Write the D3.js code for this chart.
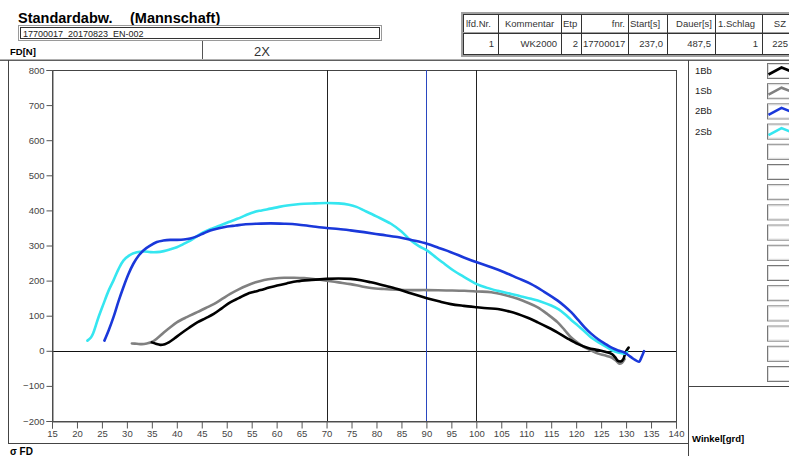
<!DOCTYPE html>
<html><head><meta charset="utf-8">
<script src="https://cdn.jsdelivr.net/npm/d3@7/dist/d3.min.js"></script>
<style>
html,body{margin:0;padding:0;background:#fff;}
svg{display:block;font-family:"Liberation Sans",Arial,sans-serif;}
</style></head>
<body>
<svg id="c" width="789" height="456"></svg>
<script>
// ---- data ----
const seriesNames = ["1Bb","1Sb","2Bb","2Sb"];
const seriesColors = ["#000000","#808080","#1a38da","#35e6f0"];
const xTicks = [15,20,25,30,35,40,45,50,55,60,65,70,75,80,85,90,95,100,105,110,115,120,125,130,135,140];
const yTicks = [-200,-100,0,100,200,300,400,500,600,700,800];
const markerLines = [70,90,100];
const markerColors = ["#222222","#2a48c0","#222222"];

const s1Bb = [[35,24],[35.8,20],[36.7,17],[37.6,19],[38.4,24],[39.5,35],[40.7,48],[42.4,65],[44.1,81],[45.8,93],[47.4,105],[49,121],[50.7,138],[52.4,150],[54.1,162],[55.5,168],[56.8,173],[58.5,180],[60.1,186],[62,192],[64.1,198],[67,202],[70,205],[72.4,206],[74.8,205],[76.9,201],[78.9,195],[81.5,186],[84.2,176],[87,163],[90.1,150],[92.5,141],[94.9,133],[97.5,128],[100.1,124],[102.2,121],[104.3,119],[106.3,113],[108.3,105],[110.3,94],[112.3,81],[114.3,67],[116.3,52],[118.3,35],[120.4,19],[122.4,8],[124.4,2],[125.8,-3],[127.1,-9],[127.8,-18],[128.3,-28],[129,-30],[129.5,-22],[129.9,-4],[130.5,9]];
const s1Sb = [[31,21],[32,20],[33,19],[34,21],[35,25],[36.2,37],[37.4,52],[38.7,67],[40,81],[42,96],[44.1,110],[45.8,122],[47.4,133],[49,147],[50.7,162],[52.4,175],[54.1,186],[55.8,195],[57.5,202],[59.5,206],[61.5,208],[63.5,208],[65.5,207],[67.8,204],[70,200],[72.4,195],[74.8,190],[76.9,184],[78.9,179],[81.5,176],[84.2,174],[87,173],[90.1,173],[94,172],[97.6,171],[100.3,169],[103,167],[105.7,159],[108.3,148],[110.3,137],[112.3,124],[114.3,104],[116.3,81],[117.7,59],[119,38],[120.4,22],[121.7,10],[123,1],[124.4,-8],[125.7,-13],[127.1,-19],[128,-28],[128.7,-37],[129.2,-34],[129.7,-24]];
const s2Bb = [[25.5,29],[26.4,60],[27.3,95],[28.3,140],[29.3,181],[30.3,218],[31.3,248],[32.3,270],[33.3,286],[34.6,299],[36,310],[37.3,314],[38.7,316],[40,316],[41.4,317],[42.7,320],[44,326],[45.4,335],[46.7,343],[48.4,349],[50.1,354],[51.8,357],[53.4,360],[56,362],[58.8,363],[61.5,362],[64.1,360],[67,355],[70,350],[72.4,347],[74.8,343],[77.5,338],[80.8,331],[84.2,324],[87.2,315],[90.1,305],[92.5,293],[94.9,281],[97.5,266],[100.1,252],[103,238],[105.6,224],[108.3,207],[111,190],[113.6,168],[116.3,143],[117.7,127],[119,110],[120.4,88],[121.7,67],[123,49],[124.4,33],[125.8,20],[127.1,9],[128.4,1],[129.7,-5],[131,-18],[131.8,-26],[132.6,-31],[133.1,-18],[133.6,-1]];
const s2Sb = [[22.1,29],[22.8,38],[23.3,52],[24.3,95],[25.3,133],[26.3,170],[27.3,200],[28.3,232],[29.3,257],[30.5,272],[32,281],[33.5,283],[34.7,281],[36,281],[37.4,284],[38.7,289],[40,295],[41.3,304],[42.7,314],[44,326],[45.4,338],[47,348],[48.7,357],[50.4,367],[52.1,376],[53.8,386],[55.4,395],[57,400],[58.8,405],[60.5,410],[62.1,414],[63.8,417],[65.5,419],[67.7,420],[70,421],[72.4,420],[74.5,416],[76,410],[77.5,400],[80,383],[82.9,362],[85,340],[86.9,314],[88.5,298],[90.1,286],[92,265],[93.6,248],[95.5,228],[97.6,210],[100.1,190],[102,180],[104.3,171],[107,162],[109,155],[111,148],[113,140],[115,129],[116.5,118],[117.7,105],[119,88],[120.4,71],[121.7,55],[123,38],[124.4,25],[125.7,14],[127,3],[128.4,-5],[129.7,-8],[130.2,-4]];
const seriesData = [s1Bb, s1Sb, s2Bb, s2Sb];

const headerTitle = "Standardabw.";
const headerSub = "(Mannschaft)";
const fileName = "17700017_20170823_EN-002";
const tableHead = ["lfd.Nr.","Kommentar","Etp","fnr.","Start[s]","Dauer[s]","1.Schlag","SZ"];
const tableRow = ["1","WK2000","2","17700017","237,0","487,5","1","225"];
const emptyLegendSlots = 12;

// ---- layout ----
const svg = d3.select("#c");
const F = '"Liberation Sans",Arial,sans-serif';

// header
svg.append("text").attr("x",18).attr("y",23).attr("font-size",14.5).attr("font-weight","bold").text(headerTitle);
svg.append("text").attr("x",130).attr("y",23).attr("font-size",14.5).attr("font-weight","bold").text(headerSub);
// file box (sunken)
svg.append("rect").attr("x",18.5).attr("y",25.5).attr("width",363).attr("height",15).attr("fill","#fff").attr("stroke","#9a9a9a");
svg.append("rect").attr("x",20.5).attr("y",27.5).attr("width",359).attr("height",11).attr("fill","#fff").attr("stroke","#333");
svg.append("text").attr("x",23).attr("y",36.5).attr("font-size",9).attr("fill","#222").text(fileName);

// FD[N] / 2X row
svg.append("text").attr("x",10).attr("y",55).attr("font-size",9.5).attr("font-weight","bold").text("FD[N]");
svg.append("line").attr("x1",202.5).attr("x2",202.5).attr("y1",41).attr("y2",59).attr("stroke","#555");
svg.append("text").attr("x",262).attr("y",56).attr("font-size",13).attr("text-anchor","middle").attr("fill","#333").text("2X");

// table
const colX = [463,498,561,581,628,667,715,762,800];
const tTop = 14, tMid = 33, tBot = 55;
svg.append("rect").attr("x",462).attr("y",tTop-1).attr("width",340).attr("height",tBot-tTop+2).attr("fill","none").attr("stroke","#a0a0a0").attr("stroke-width",2);
svg.append("rect").attr("x",463.5).attr("y",tTop+0.5).attr("width",340).attr("height",tBot-tTop-1).attr("fill","none").attr("stroke","#333");
svg.append("line").attr("x1",463).attr("x2",789).attr("y1",tMid-0.5).attr("y2",tMid-0.5).attr("stroke","#a0a0a0");
svg.append("line").attr("x1",463).attr("x2",789).attr("y1",tMid+0.5).attr("y2",tMid+0.5).attr("stroke","#333");
colX.slice(1,8).forEach(x=>{
  svg.append("line").attr("x1",x+0.5).attr("x2",x+0.5).attr("y1",tTop).attr("y2",tBot).attr("stroke","#333");
});
const headAnchor = ["start","start","start","end","start","end","start","end"];
const headPos = [466,505,563,625,630,712,718,786];
tableHead.forEach((t,i)=>{
  svg.append("text").attr("x",headPos[i]).attr("y",27).attr("font-size",9.5).attr("fill","#333").attr("text-anchor",headAnchor[i]).text(t);
});
const rowAnchor = ["end","end","end","start","end","end","end","end"];
const rowPos = [494,557,578,583,663,711,758,788];
tableRow.forEach((t,i)=>{
  svg.append("text").attr("x",rowPos[i]).attr("y",47).attr("font-size",9.5).attr("fill","#333").attr("text-anchor",rowAnchor[i]).text(t);
});

// panel frames
svg.append("line").attr("x1",0).attr("x2",789).attr("y1",59.5).attr("y2",59.5).attr("stroke","#b0b0b0");
svg.append("line").attr("x1",0).attr("x2",789).attr("y1",60.5).attr("y2",60.5).attr("stroke","#606060");
svg.append("line").attr("x1",8.5).attr("x2",8.5).attr("y1",60).attr("y2",443).attr("stroke","#444");
svg.append("line").attr("x1",8).attr("x2",689).attr("y1",443.5).attr("y2",443.5).attr("stroke","#444");
svg.append("line").attr("x1",688.5).attr("x2",688.5).attr("y1",60).attr("y2",456).attr("stroke","#444");
svg.append("line").attr("x1",689).attr("x2",789).attr("y1",386.5).attr("y2",386.5).attr("stroke","#444");

svg.append("text").attr("x",10).attr("y",455).attr("font-size",10).attr("font-weight","bold").text("σ FD");
svg.append("text").attr("x",692).attr("y",442).attr("font-size",9.5).attr("font-weight","bold").text("Winkel[grd]");

// plot
const xL = 52, xR = 676, yT = 70, yB = 421;
const x = d3.scaleLinear().domain([15,140]).range([xL,xR]);
const y = d3.scaleLinear().domain([-200,800]).range([yB,yT]);

const plot = svg.append("g");
plot.append("rect").attr("x",xL+0.5).attr("y",yT+0.5).attr("width",xR-xL).attr("height",yB-yT).attr("fill","none").attr("stroke","#444");

// axes
const yAxis = d3.axisLeft(y).tickValues(yTicks).tickSize(6).tickPadding(2);
const gy = svg.append("g").attr("transform",`translate(${xL+0.5},0)`).call(yAxis);
gy.select(".domain").attr("stroke","#555");
gy.selectAll(".tick line").attr("stroke","#555");
gy.selectAll("text").attr("font-size",9.5).attr("fill","#444").attr("font-family",F);

const xAxis = d3.axisBottom(x).tickValues(xTicks).tickSize(7).tickPadding(2);
const gx = svg.append("g").attr("transform",`translate(0,${yB+0.5})`).call(xAxis);
gx.select(".domain").attr("stroke","#555");
gx.selectAll(".tick line").attr("stroke","#555");
gx.selectAll("text").attr("font-size",9.5).attr("fill","#444").attr("font-family",F);

// zero line & markers
plot.append("line").attr("x1",xL).attr("x2",xR).attr("y1",Math.round(y(0))+0.5).attr("y2",Math.round(y(0))+0.5).attr("stroke","#111");
markerLines.forEach((m,i)=>{
  const px = Math.round(x(m))+0.5;
  plot.append("line").attr("x1",px).attr("x2",px).attr("y1",yT).attr("y2",yB).attr("stroke",markerColors[i]);
});

// series
const line = d3.line().x(d=>x(d[0])).y(d=>y(d[1])).curve(d3.curveCatmullRom.alpha(0.5));
const drawOrder = [1,0,3,2];
drawOrder.forEach(i=>{
  plot.append("path").datum(seriesData[i]).attr("d",line).attr("fill","none")
    .attr("stroke",seriesColors[i]).attr("stroke-width",2.6).attr("stroke-linejoin","round").attr("stroke-linecap","round");
});

// legend
const nSlots = seriesNames.length + emptyLegendSlots;
for(let i=0;i<nSlots;i++){
  const top = 63.5 + i*20.2;
  const bx = 767.5;
  svg.append("rect").attr("x",bx).attr("y",top).attr("width",30).attr("height",15).attr("fill","#fff").attr("stroke","#777");
  svg.append("rect").attr("x",bx+1).attr("y",top+1).attr("width",30).attr("height",13).attr("fill","none").attr("stroke","#ddd");
  if(i<seriesNames.length){
    svg.append("text").attr("x",695).attr("y",top+10.5).attr("font-size",9.5).attr("fill","#222").text(seriesNames[i]);
    svg.append("path").attr("d",`M${bx+1},${top+11} L${bx+14},${top+4} L${bx+24},${top+8}`)
      .attr("fill","none").attr("stroke",seriesColors[i]).attr("stroke-width",2.6);
  }
}
</script>
</body></html>
